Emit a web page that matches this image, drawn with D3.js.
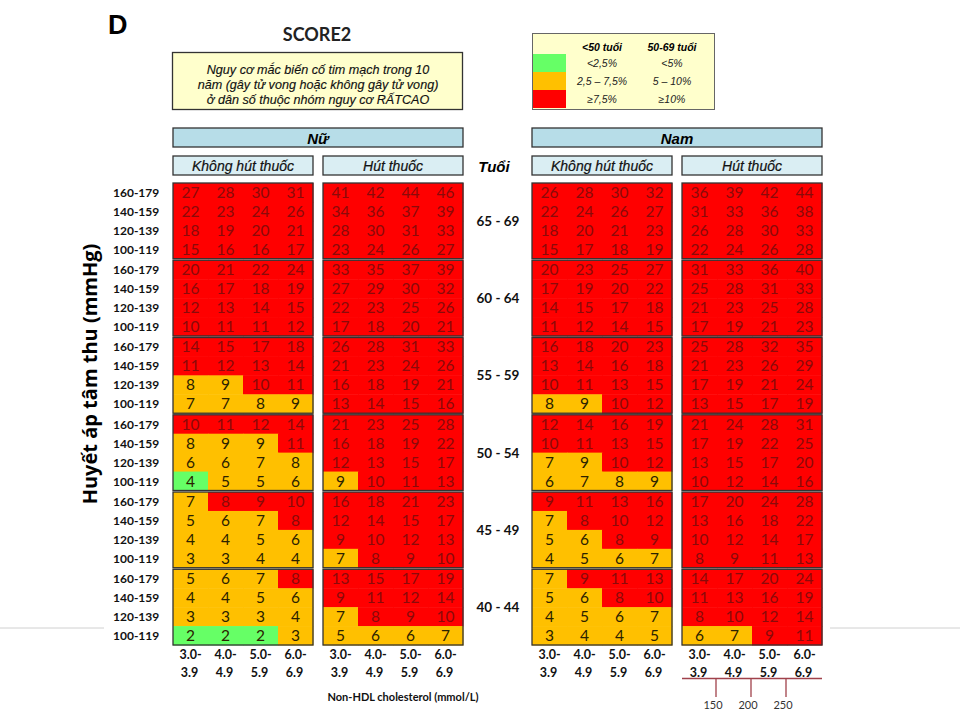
<!DOCTYPE html>
<html><head><meta charset="utf-8">
<script src="https://cdn.jsdelivr.net/npm/d3@7"></script>
<style>body{margin:0;background:#fff}svg{display:block}</style>
</head><body>
<script>
const ages = ["65 - 69","60 - 64","55 - 59","50 - 54","45 - 49","40 - 44"];
const ageYoung = [false,false,false,false,true,true];
const bpRows = ["160-179","140-159","120-139","100-119"];
const cholLo = ["3.0-","4.0-","5.0-","6.0-"];
const cholHi = ["3.9","4.9","5.9","6.9"];
const mgTicks = [150,200,250];

const womenNonSmoking = [
 [[27,28,30,31],[22,23,24,26],[18,19,20,21],[15,16,16,17]],
 [[20,21,22,24],[16,17,18,19],[12,13,14,15],[10,11,11,12]],
 [[14,15,17,18],[11,12,13,14],[8,9,10,11],[7,7,8,9]],
 [[10,11,12,14],[8,9,9,11],[6,6,7,8],[4,5,5,6]],
 [[7,8,9,10],[5,6,7,8],[4,4,5,6],[3,3,4,4]],
 [[5,6,7,8],[4,4,5,6],[3,3,3,4],[2,2,2,3]]
];
const womenSmoking = [
 [[41,42,44,46],[34,36,37,39],[28,30,31,33],[23,24,26,27]],
 [[33,35,37,39],[27,29,30,32],[22,23,25,26],[17,18,20,21]],
 [[26,28,31,33],[21,23,24,26],[16,18,19,21],[13,14,15,16]],
 [[21,23,25,28],[16,18,19,22],[12,13,15,17],[9,10,11,13]],
 [[16,18,21,23],[12,14,15,17],[9,10,12,13],[7,8,9,10]],
 [[13,15,17,19],[9,11,12,14],[7,8,9,10],[5,6,6,7]]
];
const menNonSmoking = [
 [[26,28,30,32],[22,24,26,27],[18,20,21,23],[15,17,18,19]],
 [[20,23,25,27],[17,19,20,22],[14,15,17,18],[11,12,14,15]],
 [[16,18,20,23],[13,14,16,18],[10,11,13,15],[8,9,10,12]],
 [[12,14,16,19],[10,11,13,15],[7,9,10,12],[6,7,8,9]],
 [[9,11,13,16],[7,8,10,12],[5,6,8,9],[4,5,6,7]],
 [[7,9,11,13],[5,6,8,10],[4,5,6,7],[3,4,4,5]]
];
const menSmoking = [
 [[36,39,42,44],[31,33,36,38],[26,28,30,33],[22,24,26,28]],
 [[31,33,36,40],[25,28,31,33],[21,23,25,28],[17,19,21,23]],
 [[25,28,32,35],[21,23,26,29],[17,19,21,24],[13,15,17,19]],
 [[21,24,28,31],[17,19,22,25],[13,15,17,20],[10,12,14,16]],
 [[17,20,24,28],[13,16,18,22],[10,12,14,17],[8,9,11,13]],
 [[14,17,20,24],[11,13,16,19],[8,10,12,14],[6,7,9,11]]
];
const panelNames = ["wn","ws","mn","ms"];
const panelData = [womenNonSmoking, womenSmoking, menNonSmoking, menSmoking];
const subHeaders = ["Không hút thuốc","Hút thuốc","Không hút thuốc","Hút thuốc"];
const sexHeaders = ["Nữ","Nam"];
const legendHead = ["<50 tuổi","50-69 tuổi"];
const legendYoung = ["<2,5%","2,5 – 7,5%","≥7,5%"];
const legendOld = ["<5%","5 – 10%","≥10%"];
const boxLines = ["Nguy cơ mắc biến cố tim mạch trong 10","năm (gây tử vong hoặc không gây tử vong)","ở dân số thuộc nhóm nguy cơ RẤTCAO"];

const GREEN="#66ff66", ORANGE="#ffc000", RED="#ff0000";
const riskColor = (v, young) => {
  const t = young ? [2.5,7.5] : [5,10];
  return v < t[0] ? GREEN : (v < t[1] ? ORANGE : RED);
};

const W=960,H=720;
const svg = d3.select("body").append("svg").attr("width",W).attr("height",H);

const ageScale = d3.scaleBand().domain(ages).range([183,645]).paddingInner(0.02);
const bpScale = d3.scaleBand().domain(bpRows).range([0, ageScale.bandwidth()]);
const panelX = d3.scaleOrdinal().domain(panelNames).range([173,323,532,682]);
const colScale = d3.scaleBand().domain(d3.range(4)).range([0,140]);
const sexX = d3.scaleOrdinal().domain(sexHeaders).range([173,532]);

const LATO = "Lato, 'Open Sans', sans-serif";
const ARIAL = "'Liberation Sans', Arial, sans-serif";

svg.append("line").attr("x1",0).attr("x2",104).attr("y1",628).attr("y2",628).attr("stroke","#d0d0d0");
svg.append("line").attr("x1",830).attr("x2",960).attr("y1",628).attr("y2",628).attr("stroke","#d0d0d0");

svg.append("text").attr("x",108).attr("y",34).text("D")
  .attr("font-family",ARIAL).attr("font-weight","bold").attr("font-size",27);
svg.append("text").attr("x",317).attr("y",41).attr("text-anchor","middle").text("SCORE2")
  .attr("font-family",LATO).attr("font-weight","bold").attr("font-size",18).attr("fill","#222");

svg.append("rect").attr("x",172.5).attr("y",52.5).attr("width",290).attr("height",57)
  .attr("fill","#ffffcc").attr("stroke","#333").attr("stroke-width",1.3);
boxLines.forEach((l,i)=>{
  svg.append("text").attr("x",318).attr("y",73.5+i*15).attr("text-anchor","middle").text(l)
    .attr("font-family",ARIAL).attr("font-style","italic").attr("font-size",12.6).attr("fill","#111")
    .attr("stroke","#111").attr("stroke-width",0.15);
});

const lg = svg.append("g");
lg.append("rect").attr("x",532.5).attr("y",33.5).attr("width",182).attr("height",76)
  .attr("fill","#ffffcc").attr("stroke","#666");
const swY = d3.scaleBand().domain([0,1,2]).range([54,108]);
[GREEN,ORANGE,RED].forEach((c,i)=>{
  lg.append("rect").attr("x",533).attr("y",swY(i)).attr("width",33).attr("height",swY.bandwidth()).attr("fill",c);
});
[602,672].forEach((x,j)=>{
  lg.append("text").attr("x",x).attr("y",51).attr("text-anchor","middle").text(legendHead[j])
    .attr("font-family",ARIAL).attr("font-style","italic").attr("font-weight","bold").attr("font-size",10.5);
  (j===0?legendYoung:legendOld).forEach((t,i)=>{
    lg.append("text").attr("x",x).attr("y",swY(i)+swY.bandwidth()/2+4).attr("text-anchor","middle").text(t)
      .attr("font-family",ARIAL).attr("font-style","italic").attr("font-size",10.5).attr("fill","#222");
  });
});

sexHeaders.forEach(s=>{
  svg.append("rect").attr("x",sexX(s)).attr("y",128).attr("width",290).attr("height",19)
    .attr("fill","#b7dde8").attr("stroke","#333").attr("stroke-width",1.3);
  svg.append("text").attr("x",sexX(s)+145).attr("y",143.5).attr("text-anchor","middle").text(s)
    .attr("font-family",ARIAL).attr("font-style","italic").attr("font-weight","bold").attr("font-size",15);
});
panelNames.forEach((p,i)=>{
  svg.append("rect").attr("x",panelX(p)).attr("y",156).attr("width",140).attr("height",19)
    .attr("fill","#daeef3").attr("stroke","#333").attr("stroke-width",1.3);
  svg.append("text").attr("x",panelX(p)+70).attr("y",170.5).attr("text-anchor","middle").text(subHeaders[i])
    .attr("font-family",ARIAL).attr("font-style","italic").attr("font-size",14).attr("fill","#111")
    .attr("stroke","#111").attr("stroke-width",0.2);
});
svg.append("text").attr("x",494).attr("y",172).attr("text-anchor","middle").text("Tuổi")
  .attr("font-family",ARIAL).attr("font-style","italic").attr("font-weight","bold").attr("font-size",15);

panelNames.forEach((p,pi)=>{
  const g = svg.append("g").attr("transform",`translate(${panelX(p)},0)`);
  ages.forEach((a,ai)=>{
    const by = ageScale(a);
    const bg = g.append("g").attr("transform",`translate(0,${by})`);
    bpRows.forEach((r,ri)=>{
      panelData[pi][ai][ri].forEach((v,ci)=>{
        const col = riskColor(v, ageYoung[ai]);
        bg.append("rect").attr("x",colScale(ci)).attr("y",bpScale(r))
          .attr("width",colScale.bandwidth()+0.5).attr("height",bpScale.bandwidth()+0.5).attr("fill",col);
        bg.append("text").attr("x",colScale(ci)+colScale.bandwidth()/2).attr("y",bpScale(r)+bpScale.bandwidth()/2+5.5)
          .attr("text-anchor","middle").text(v)
          .attr("font-family",LATO).attr("font-size",15.5)
          .attr("fill", col===RED ? "#8a0a0a" : "#2b2200");
      });
    });
    bg.append("rect").attr("x",0).attr("y",0).attr("width",140).attr("height",ageScale.bandwidth())
      .attr("fill","none").attr("stroke","#333").attr("stroke-width",1.3);
  });
});

ages.forEach(a=>{
  bpRows.forEach(r=>{
    svg.append("text").attr("x",113).attr("y",ageScale(a)+bpScale(r)+bpScale.bandwidth()/2+4.5).text(r)
      .attr("font-family",LATO).attr("font-weight","bold").attr("font-size",12).attr("fill","#111");
  });
  svg.append("text").attr("x",498).attr("y",ageScale(a)+ageScale.bandwidth()/2+5).attr("text-anchor","middle").text(a)
    .attr("font-family",LATO).attr("font-weight","bold").attr("font-size",13.5).attr("fill","#111");
});

panelNames.forEach(p=>{
  cholLo.forEach((t,ci)=>{
    const cx = panelX(p)+colScale(ci)+colScale.bandwidth()/2;
    svg.append("text").attr("x",cx).attr("y",659).attr("text-anchor","middle").text(t)
      .attr("font-family",LATO).attr("font-weight","bold").attr("font-size",12.5).attr("fill","#111");
    svg.append("text").attr("x",cx-1).attr("y",677).attr("text-anchor","middle").text(cholHi[ci])
      .attr("font-family",LATO).attr("font-weight","bold").attr("font-size",12.5).attr("fill","#111");
  });
});
svg.append("text").attr("x",403).attr("y",701).attr("text-anchor","middle").text("Non-HDL cholesterol (mmol/L)")
  .attr("font-family",LATO).attr("font-weight","bold").attr("font-size",11).attr("fill","#111");

const mgScale = d3.scaleLinear().domain([100,300]).range([682,822]);
const ax = svg.append("g");
ax.append("line").attr("x1",682).attr("x2",822).attr("y1",678.5).attr("y2",678.5).attr("stroke","#a0414b").attr("stroke-width",1.3);
mgTicks.forEach(t=>{
  ax.append("line").attr("x1",mgScale(t)-1).attr("x2",mgScale(t)-1).attr("y1",678).attr("y2",697).attr("stroke","#a0414b").attr("stroke-width",1.3);
  ax.append("text").attr("x",mgScale(t)-4).attr("y",709).attr("text-anchor","middle").text(t)
    .attr("font-family",LATO).attr("font-size",11).attr("fill","#333");
});

svg.append("text").attr("transform","translate(97,374) rotate(-90)").attr("text-anchor","middle")
  .text("Huyết áp tâm thu (mmHg)")
  .attr("font-family","'Open Sans', sans-serif").attr("font-weight","bold").attr("font-size",20).attr("fill","#000");
</script>
</body></html>
